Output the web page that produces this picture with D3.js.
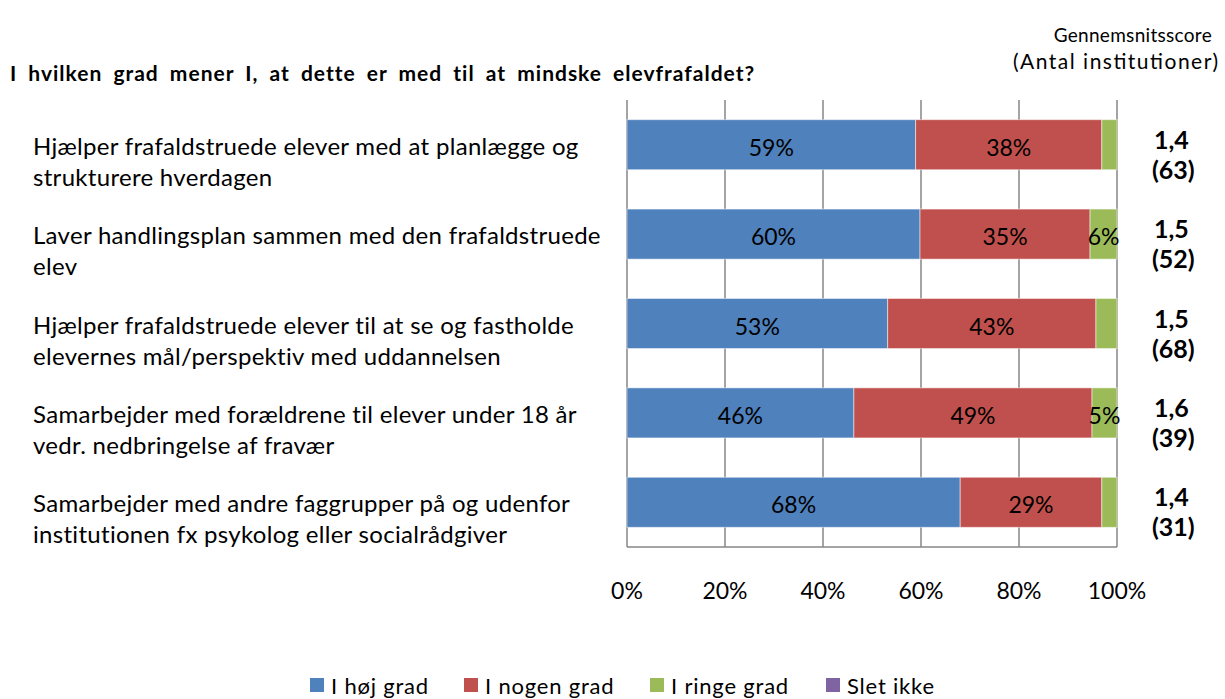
<!DOCTYPE html>
<html>
<head>
<meta charset="utf-8">
<script src="https://cdn.jsdelivr.net/npm/d3@7"></script>
<style>
  body { margin: 0; background: #fff; }
  svg { display: block; font-family: Lato, "Open Sans", sans-serif; }
</style>
</head>
<body>
<div id="chart"></div>
<script>
// categories, one entry per bar, wrapped as in the original
const categories = [
  ["Hjælper frafaldstruede elever med at planlægge og", "strukturere hverdagen"],
  ["Laver handlingsplan sammen med den frafaldstruede", "elev"],
  ["Hjælper frafaldstruede elever til at se og fastholde", "elevernes mål/perspektiv med uddannelsen"],
  ["Samarbejder med forældrene til elever under 18 år", "vedr. nedbringelse af fravær"],
  ["Samarbejder med andre faggrupper på og udenfor", "institutionen fx psykolog eller socialrådgiver"]
];
const seriesNames = ["I høj grad", "I nogen grad", "I ringe grad", "Slet ikke"];
const hoejGrad = [58.9, 59.8, 53.2, 46.3, 68.0];
const nogenGrad = [38.0, 34.7, 42.5, 48.6, 28.9];
const ringeGrad = [3.1, 5.5, 4.3, 5.1, 3.1];
const sletIkke = [0, 0, 0, 0, 0];
const scores = ["1,4", "1,5", "1,5", "1,6", "1,4"];
const counts = ["(63)", "(52)", "(68)", "(39)", "(31)"];
const xTicks = [0, 20, 40, 60, 80, 100];

const colors = ["#4F81BD", "#C0504D", "#9BBB59", "#8064A2"];
const width = 1225, height = 699;

const svg = d3.select("#chart").append("svg")
  .attr("width", width)
  .attr("height", height);

const x = d3.scaleLinear().domain([0, 100]).range([627, 1117]);
const y = d3.scaleBand().domain(d3.range(categories.length)).range([100, 547]).paddingInner(0.44).paddingOuter(0.22);

// gridlines
svg.append("g")
  .selectAll("line")
  .data(xTicks)
  .join("line")
  .attr("x1", d => x(d)).attr("x2", d => x(d))
  .attr("y1", 100).attr("y2", 547)
  .attr("stroke", "#868686")
  .attr("stroke-width", 1.5);

// stacked data
const table = categories.map((c, i) => ({
  i: i, v0: hoejGrad[i], v1: nogenGrad[i], v2: ringeGrad[i], v3: sletIkke[i]
}));
const stack = d3.stack().keys(["v0", "v1", "v2", "v3"]);
const layers = stack(table);

const layerG = svg.append("g")
  .selectAll("g")
  .data(layers)
  .join("g")
  .attr("fill", (d, k) => colors[k]);

layerG.selectAll("rect")
  .data(d => d)
  .join("rect")
  .attr("x", d => x(d[0]))
  .attr("width", d => x(d[1]) - x(d[0]))
  .attr("y", d => y(d.data.i))
  .attr("height", y.bandwidth())
  .attr("stroke", "rgba(255,255,255,0.5)")
  .attr("stroke-width", 1);

// value labels inside segments
layerG.selectAll("text")
  .data(d => d.filter(s => Math.round(s[1] - s[0]) >= 5))
  .join("text")
  .attr("x", d => x((d[0] + d[1]) / 2))
  .attr("y", d => y(d.data.i) + y.bandwidth() / 2 + 11)
  .attr("text-anchor", "middle")
  .attr("fill", "#000")
  .style("font-size", "23px")
  .text(d => Math.round(d[1] - d[0]) + "%");

// axes lines
svg.append("line")
  .attr("x1", x(0)).attr("x2", x(100))
  .attr("y1", 547).attr("y2", 547)
  .attr("stroke", "#868686").attr("stroke-width", 1.5);

// x tick labels
svg.append("g")
  .selectAll("text")
  .data(xTicks)
  .join("text")
  .attr("x", d => x(d))
  .attr("y", 599)
  .attr("text-anchor", "middle")
  .style("font-size", "23px")
  .text(d => d + "%");

// category labels
const catG = svg.append("g")
  .selectAll("text")
  .data(categories)
  .join("text")
  .attr("x", 33)
  .attr("y", (d, i) => y(i) + y.bandwidth() / 2 + 10)
  .style("font-size", "24px")
  .style("letter-spacing", "0.3px")
  .attr("fill", "#000");
catG.selectAll("tspan")
  .data(d => d)
  .join("tspan")
  .attr("x", 33)
  .attr("dy", (d, j) => j === 0 ? 0 : 31)
  .text(d => d);

// right side score / count
svg.append("g")
  .selectAll("text")
  .data(scores)
  .join("text")
  .attr("x", 1154)
  .attr("y", (d, i) => y(i) + y.bandwidth() / 2 + 4)
  .style("font-size", "25px")
  .style("font-weight", "bold")
  .text(d => d);
svg.append("g")
  .selectAll("text")
  .data(counts)
  .join("text")
  .attr("x", 1152)
  .attr("y", (d, i) => y(i) + y.bandwidth() / 2 + 34)
  .style("font-size", "25px")
  .style("font-weight", "bold")
  .text(d => d);

// title and header
svg.append("text")
  .attr("x", 10).attr("y", 81)
  .style("font-size", "21px")
  .style("font-weight", "bold")
  .style("letter-spacing", "1px")
  .style("word-spacing", "5px")
  .text("I hvilken grad mener I, at dette er med til at mindske elevfrafaldet?");
svg.append("text")
  .attr("x", 1212).attr("y", 42)
  .attr("text-anchor", "end")
  .style("font-size", "19px")
  .style("letter-spacing", "0.3px")
  .text("Gennemsnitsscore");
svg.append("text")
  .attr("x", 1013).attr("y", 69)
  .attr("textLength", 205)
  .style("font-size", "21px")
  .text("(Antal institutioner)");

// legend
const legendX = [310, 464, 650, 826];
const legend = svg.append("g")
  .selectAll("g")
  .data(seriesNames)
  .join("g")
  .attr("transform", (d, i) => `translate(${legendX[i]},678)`);
legend.append("rect")
  .attr("width", 14).attr("height", 14)
  .attr("fill", (d, i) => colors[i]);
legend.append("text")
  .attr("x", 21).attr("y", 16)
  .style("font-size", "22px")
  .style("letter-spacing", "0.8px")
  .text(d => d);
</script>
</body>
</html>
